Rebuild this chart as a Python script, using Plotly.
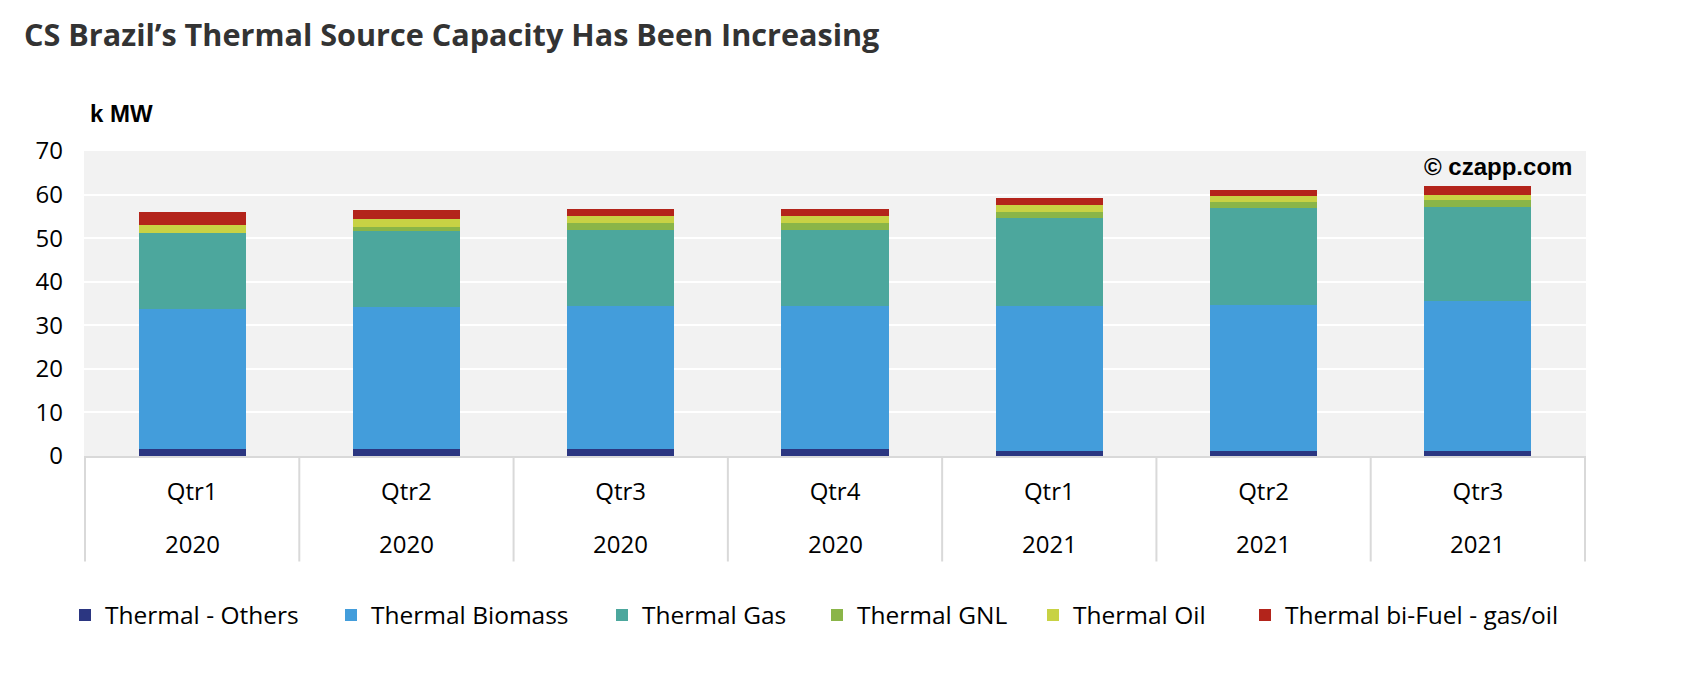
import plotly.graph_objects as go

# ---- data ----
quarters = ["Qtr1", "Qtr2", "Qtr3", "Qtr4", "Qtr1", "Qtr2", "Qtr3"]
years = ["2020", "2020", "2020", "2020", "2021", "2021", "2021"]
categories = [f"{q} {y}" for q, y in zip(quarters, years)]

thermal_others = [1.5, 1.5, 1.5, 1.5, 1.26, 1.26, 1.26]
thermal_biomass = [32.3, 32.7, 33.0, 33.0, 33.2, 33.5, 34.3]
thermal_gas = [17.3, 17.5, 17.4, 17.4, 20.2, 22.1, 21.5]
thermal_gnl = [0.0, 0.8, 1.55, 1.55, 1.3, 1.4, 1.6]
thermal_oil = [1.9, 1.9, 1.6, 1.6, 1.6, 1.4, 1.2]
thermal_bifuel = [3.0, 2.0, 1.55, 1.6, 1.7, 1.4, 2.1]

series_names = ["Thermal - Others", "Thermal Biomass", "Thermal Gas",
                "Thermal GNL", "Thermal Oil", "Thermal bi-Fuel - gas/oil"]
series_values = [thermal_others, thermal_biomass, thermal_gas,
                 thermal_gnl, thermal_oil, thermal_bifuel]
series_colors = ["#2b3681", "#439ddb", "#4ca79d", "#8ab548", "#c8d244", "#b3241b"]

y_ticks = [0, 10, 20, 30, 40, 50, 60, 70]

# ---- layout geometry (px, page coordinates; page has an 8px body margin) ----
W, H = 1690, 678
OFF = 8
PLOT_L, PLOT_R, PLOT_T, PLOT_B = 84, 1586, 151, 456
L = PLOT_L - OFF
T = PLOT_T - OFF
PW = PLOT_R - PLOT_L
PH = PLOT_B - PLOT_T
R = W - L - PW
B = H - T - PH

def px_to_paper_x(px):
    return (px - PLOT_L) / PW

def px_to_paper_y(py):
    return (PLOT_B - py) / PH

legend_square_left = [81, 347, 618, 833, 1049, 1261]
legend_names = ["legend", "legend2", "legend3", "legend4", "legend5", "legend6"]

fig = go.Figure()
for i, (name, vals, col) in enumerate(zip(series_names, series_values, series_colors)):
    fig.add_trace(go.Bar(
        x=categories, y=vals, name=name,
        marker=dict(color=col, line=dict(width=0)),
        legend=legend_names[i],
    ))

base_font = "Open Sans, Liberation Sans, Arial, sans-serif"

layout_legends = {}
for i, ln in enumerate(legend_names):
    layout_legends[ln] = dict(
        x=px_to_paper_x(legend_square_left[i] - 16), xanchor="left",
        y=px_to_paper_y(615), yanchor="middle",
        orientation="h", bgcolor="rgba(0,0,0,0)",
        font=dict(family=base_font, size=24.5, color="#000000"),
    )

fig.update_layout(
    width=W, height=H,
    margin=dict(l=L, r=R, t=T, b=B),
    paper_bgcolor="white", plot_bgcolor="#f2f2f2",
    barmode="stack", bargap=0.5,
    showlegend=True,
    title=dict(
        text="CS Brazil’s Thermal Source Capacity Has Been Increasing",
        x=(24 - OFF) / W, xanchor="left", xref="container",
        y=1 - (35 - OFF) / H, yanchor="middle", yref="container",
        font=dict(family=base_font, size=30.6, color="#333333", weight="bold"),
    ),
    xaxis=dict(
        type="category", categoryorder="array", categoryarray=categories,
        tickvals=categories, ticktext=quarters,
        showline=True, linecolor="#d9d9d9", linewidth=2,
        showgrid=False, ticks="", zeroline=False,
        tickfont=dict(family=base_font, size=24, color="#000000"),
        ticklabelstandoff=13,
    ),
    yaxis=dict(
        range=[0, 70], tickvals=y_ticks,
        showgrid=True, gridcolor="white", gridwidth=2,
        zeroline=False, showline=False, ticks="",
        tickfont=dict(family=base_font, size=24, color="#000000"),
        ticklabelstandoff=20,
    ),
    **layout_legends,
)

# divider lines between categories in the axis label band
for i in range(len(categories) + 1):
    fig.add_shape(type="line", xref="x", yref="paper",
                  x0=i - 0.5, x1=i - 0.5,
                  y0=0, y1=px_to_paper_y(561.5),
                  line=dict(color="#d9d9d9", width=2), layer="below")

# year labels (second row)
for c, yr in zip(categories, years):
    fig.add_annotation(x=c, xref="x", y=px_to_paper_y(543), yref="paper",
                       text=yr, showarrow=False, yanchor="middle",
                       font=dict(family=base_font, size=24, color="#000000"))

# unit label
fig.add_annotation(x=px_to_paper_x(88), xref="paper", xanchor="left",
                   y=px_to_paper_y(114), yref="paper", yanchor="middle",
                   text="<b>k MW</b>", showarrow=False,
                   font=dict(family="Liberation Sans, Arial, sans-serif", size=24, color="#000000"))

# watermark
fig.add_annotation(x=1, xref="paper", xanchor="right", xshift=-12,
                   y=px_to_paper_y(166), yref="paper", yanchor="middle",
                   text="<b>© czapp.com</b>", showarrow=False,
                   font=dict(family="Liberation Sans, Arial, sans-serif", size=24, color="#000000"))

fig.write_html("out.html")
